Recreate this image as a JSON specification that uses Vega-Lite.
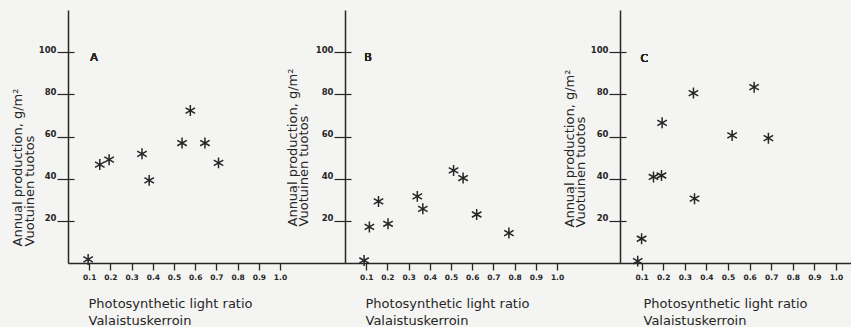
{
  "$schema": "https://vega.github.io/schema/vega-lite/v6.json",
  "background": "#f4f4f2",
  "padding": {"left": 11, "top": 10, "right": 0, "bottom": 0},
  "bounds": "flush",
  "spacing": 0,
  "config": {
    "view": {"stroke": null},
    "font": "DejaVu Sans",
    "axis": {"grid": false, "domainColor": "#262626", "tickColor": "#262626", "labelColor": "#262626", "titleColor": "#262626", "labelFont": "DejaVu Sans", "titleFont": "DejaVu Sans", "labelFontWeight": "bold", "titleFontWeight": "normal", "labelOverlap": false}
  },
  "datasets": {
    "A": [
      {"ratio": 0.095, "production": 1.7},
      {"ratio": 0.15, "production": 46.7},
      {"ratio": 0.194, "production": 49},
      {"ratio": 0.349, "production": 51.8},
      {"ratio": 0.383, "production": 39.2},
      {"ratio": 0.538, "production": 56.9},
      {"ratio": 0.577, "production": 72.3},
      {"ratio": 0.646, "production": 56.9},
      {"ratio": 0.71, "production": 47.5}
    ],
    "B": [
      {"ratio": 0.09, "production": 1.2},
      {"ratio": 0.115, "production": 17.1},
      {"ratio": 0.158, "production": 29.2},
      {"ratio": 0.203, "production": 18.6},
      {"ratio": 0.341, "production": 31.6},
      {"ratio": 0.367, "production": 25.7},
      {"ratio": 0.512, "production": 43.9},
      {"ratio": 0.557, "production": 40.3},
      {"ratio": 0.621, "production": 23},
      {"ratio": 0.773, "production": 14.2}
    ],
    "C": [
      {"ratio": 0.082, "production": 0.9},
      {"ratio": 0.1, "production": 11.5},
      {"ratio": 0.155, "production": 40.8},
      {"ratio": 0.192, "production": 41.5},
      {"ratio": 0.195, "production": 66.5},
      {"ratio": 0.34, "production": 80.6},
      {"ratio": 0.345, "production": 30.5},
      {"ratio": 0.519, "production": 60.5},
      {"ratio": 0.621, "production": 83.4},
      {"ratio": 0.687, "production": 59.2}
    ]
  },
  "hconcat": [
    {
      "width": 277,
      "height": 253,
      "data": {"name": "A"},
      "resolve": {"axis": {"x": "independent", "y": "independent"}},
      "layer": [
        {
          "mark": {"type": "text", "text": "A", "fontSize": 11, "fontWeight": "normal", "color": "#262626", "align": "center", "baseline": "middle"},
          "encoding": {
            "x": {"datum": 0.123, "type": "quantitative", "scale": {"domain": [0, 1.3066], "nice": false, "zero": false},
              "axis": {"orient": "bottom", "values": [0.1, 0.2, 0.3, 0.4, 0.5, 0.6, 0.7, 0.8, 0.9, 1.0], "domain": false, "ticks": true, "tickSize": 7, "tickWidth": 1.3, "labels": false, "title": null}},
            "y": {"datum": 97.3, "type": "quantitative", "scale": {"domain": [0, 120], "nice": false},
              "axis": {"orient": "left", "offset": -6, "domain": false, "labels": false, "title": null, "tickSize": 6, "tickWidth": 1.2, "values": [20, 40, 60, 80, 100]}}
          }
        },
        {
          "mark": {"type": "point", "shape": "M0,-1L0,1M-0.87,-0.5L0.87,0.5M-0.87,0.5L0.87,-0.5", "filled": false, "stroke": "#262626", "strokeWidth": 1.5, "size": 120, "opacity": 1},
          "encoding": {
            "x": {"field": "ratio", "type": "quantitative", "scale": {"domain": [0, 1.3066], "nice": false, "zero": false},
              "axis": {"orient": "bottom", "values": [0.1, 0.2, 0.3, 0.4, 0.5, 0.6, 0.7, 0.8, 0.9, 1.0], "format": ".1f", "domain": true, "domainWidth": 1.5, "ticks": false, "labelFontSize": 7.5, "labelPadding": 10,
                "title": ["Photosynthetic light ratio", "Valaistuskerroin"], "titleFontSize": 13, "titleAlign": "left", "titleBaseline": "alphabetic", "titleX": 20, "titleY": 44, "titleLineHeight": 17}},
            "y": {"field": "production", "type": "quantitative", "scale": {"domain": [0, 120], "nice": false},
              "axis": {"orient": "left", "values": [20, 40, 60, 80, 100], "domain": true, "domainWidth": 1.5, "tickSize": 11, "tickWidth": 1.2, "labelFontSize": 8.5, "labelPadding": 1, "labelBaseline": "alphabetic",
                "title": ["Annual production, g/m²", "Vuotuinen tuotos"], "titleFontSize": 13, "titleAngle": 270, "titleAlign": "left", "titleBaseline": "alphabetic", "titleX": -46.5, "titleY": 236, "titleLineHeight": 12}}
          }
        }
      ]
    },
    {
      "width": 275,
      "height": 253,
      "data": {"name": "B"},
      "resolve": {"axis": {"x": "independent", "y": "independent"}},
      "layer": [
        {
          "mark": {"type": "text", "text": "B", "fontSize": 11, "fontWeight": "normal", "color": "#262626", "align": "center", "baseline": "middle"},
          "encoding": {
            "x": {"datum": 0.108, "type": "quantitative", "scale": {"domain": [0, 1.297], "nice": false, "zero": false},
              "axis": {"orient": "bottom", "values": [0.1, 0.2, 0.3, 0.4, 0.5, 0.6, 0.7, 0.8, 0.9, 1.0], "domain": false, "ticks": true, "tickSize": 7, "tickWidth": 1.3, "labels": false, "title": null}},
            "y": {"datum": 97.3, "type": "quantitative", "scale": {"domain": [0, 120], "nice": false},
              "axis": {"orient": "left", "offset": -6, "domain": false, "labels": false, "title": null, "tickSize": 6, "tickWidth": 1.2, "values": [20, 40, 60, 80, 100]}}
          }
        },
        {
          "mark": {"type": "point", "shape": "M0,-1L0,1M-0.87,-0.5L0.87,0.5M-0.87,0.5L0.87,-0.5", "filled": false, "stroke": "#262626", "strokeWidth": 1.5, "size": 120, "opacity": 1},
          "encoding": {
            "x": {"field": "ratio", "type": "quantitative", "scale": {"domain": [0, 1.297], "nice": false, "zero": false},
              "axis": {"orient": "bottom", "values": [0.1, 0.2, 0.3, 0.4, 0.5, 0.6, 0.7, 0.8, 0.9, 1.0], "format": ".1f", "domain": true, "domainWidth": 1.5, "ticks": false, "labelFontSize": 7.5, "labelPadding": 10,
                "title": ["Photosynthetic light ratio", "Valaistuskerroin"], "titleFontSize": 13, "titleAlign": "left", "titleBaseline": "alphabetic", "titleX": 20, "titleY": 44, "titleLineHeight": 17}},
            "y": {"field": "production", "type": "quantitative", "scale": {"domain": [0, 120], "nice": false},
              "axis": {"orient": "left", "values": [20, 40, 60, 80, 100], "domain": true, "domainWidth": 1.5, "tickSize": 11, "tickWidth": 1.2, "labelFontSize": 8.5, "labelPadding": 1, "labelBaseline": "alphabetic",
                "title": ["Annual production, g/m²", "Vuotuinen tuotos"], "titleFontSize": 13, "titleAngle": 270, "titleAlign": "left", "titleBaseline": "alphabetic", "titleX": -48.5, "titleY": 216, "titleLineHeight": 11}}
          }
        }
      ]
    },
    {
      "width": 231,
      "height": 253,
      "data": {"name": "C"},
      "resolve": {"axis": {"x": "independent", "y": "independent"}},
      "layer": [
        {
          "mark": {"type": "text", "text": "C", "fontSize": 11, "fontWeight": "normal", "color": "#262626", "align": "center", "baseline": "middle"},
          "encoding": {
            "x": {"datum": 0.113, "type": "quantitative", "scale": {"domain": [0, 1.0694], "nice": false, "zero": false},
              "axis": {"orient": "bottom", "values": [0.1, 0.2, 0.3, 0.4, 0.5, 0.6, 0.7, 0.8, 0.9, 1.0], "domain": false, "ticks": true, "tickSize": 7, "tickWidth": 1.3, "labels": false, "title": null}},
            "y": {"datum": 96.6, "type": "quantitative", "scale": {"domain": [0, 120], "nice": false},
              "axis": {"orient": "left", "offset": -6, "domain": false, "labels": false, "title": null, "tickSize": 6, "tickWidth": 1.2, "values": [20, 40, 60, 80, 100]}}
          }
        },
        {
          "mark": {"type": "point", "shape": "M0,-1L0,1M-0.87,-0.5L0.87,0.5M-0.87,0.5L0.87,-0.5", "filled": false, "stroke": "#262626", "strokeWidth": 1.5, "size": 120, "opacity": 1},
          "encoding": {
            "x": {"field": "ratio", "type": "quantitative", "scale": {"domain": [0, 1.0694], "nice": false, "zero": false},
              "axis": {"orient": "bottom", "values": [0.1, 0.2, 0.3, 0.4, 0.5, 0.6, 0.7, 0.8, 0.9, 1.0], "format": ".1f", "domain": true, "domainWidth": 1.5, "ticks": false, "labelFontSize": 7.5, "labelPadding": 10,
                "title": ["Photosynthetic light ratio", "Valaistuskerroin"], "titleFontSize": 13, "titleAlign": "left", "titleBaseline": "alphabetic", "titleX": 23, "titleY": 44, "titleLineHeight": 17}},
            "y": {"field": "production", "type": "quantitative", "scale": {"domain": [0, 120], "nice": false},
              "axis": {"orient": "left", "values": [20, 40, 60, 80, 100], "domain": true, "domainWidth": 1.5, "tickSize": 11, "tickWidth": 1.2, "labelFontSize": 8.5, "labelPadding": 1, "labelBaseline": "alphabetic",
                "title": ["Annual production, g/m²", "Vuotuinen tuotos"], "titleFontSize": 13, "titleAngle": 270, "titleAlign": "left", "titleBaseline": "alphabetic", "titleX": -46.5, "titleY": 217, "titleLineHeight": 11}}
          }
        }
      ]
    }
  ]
}
